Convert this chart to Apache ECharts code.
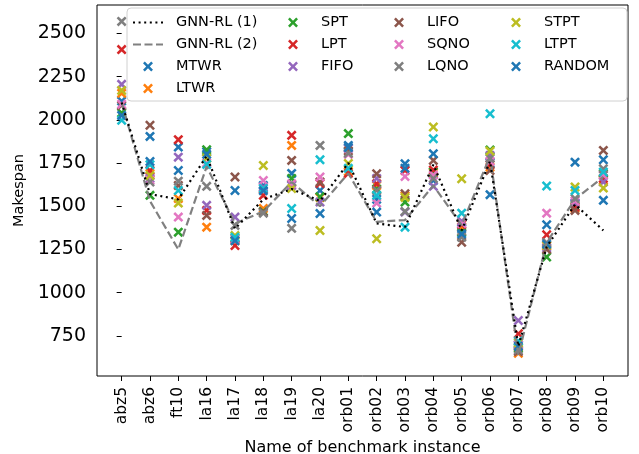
<!DOCTYPE html>
<html>
<head>
<meta charset="utf-8">
<script src="https://cdn.jsdelivr.net/npm/echarts@6/dist/echarts.min.js"></script>
<style>
  html, body { margin: 0; padding: 0; background: #fff; }
  #chart { width: 639px; height: 454px; }
</style>
</head>
<body>
<div id="chart"></div>
<script>
const categories = ['abz5', 'abz6', 'ft10', 'la16', 'la17', 'la18', 'la19', 'la20', 'orb01', 'orb02',
  'orb03', 'orb04', 'orb05', 'orb06', 'orb07', 'orb08', 'orb09', 'orb10'];
const yTicks = [750, 1000, 1250, 1500, 1750, 2000, 2250, 2500];

const gnn1 = [2100, 1570, 1540, 1790, 1370, 1540, 1600, 1530, 1750, 1400, 1380, 1740, 1360, 1760, 690, 1265, 1510, 1360];
const gnn2 = [2100, 1530, 1250, 1730, 1400, 1470, 1640, 1500, 1690, 1410, 1420, 1620, 1390, 1790, 640, 1290, 1540, 1670];

const mtwr   = [2108, 1904, 1842, 1815, 1591, 1620, 1690, 1591, 1852, 1540, 1746, 1649, 1370, 1750, 700, 1393, 1516, 1769];
const ltwr   = [2153, 1690, 1545, 1379, 1300, 1487, 1852, 1550, 1700, 1620, 1560, 1692, 1380, 1726, 650, 1270, 1486, 1650];
const spt    = [2040, 1563, 1350, 1827, 1315, 1470, 1661, 1555, 1920, 1600, 1524, 1700, 1350, 1825, 680, 1206, 1500, 1690];
const lpt    = [2406, 1707, 1885, 1476, 1273, 1563, 1910, 1632, 1690, 1630, 1707, 1710, 1395, 1740, 762, 1335, 1495, 1661];
const fifo   = [2205, 1661, 1784, 1505, 1437, 1610, 1620, 1524, 1834, 1661, 1466, 1615, 1414, 1794, 839, 1260, 1520, 1640];
const lifo   = [2083, 1968, 1620, 1447, 1669, 1466, 1765, 1640, 1820, 1688, 1572, 1765, 1292, 1707, 660, 1250, 1476, 1823];
const sqno   = [2090, 1650, 1437, 1750, 1310, 1649, 1630, 1669, 1800, 1518, 1672, 1680, 1400, 1760, 700, 1460, 1530, 1680];
const lqno   = [2569, 1640, 1645, 1615, 1389, 1460, 1372, 1852, 1807, 1591, 1470, 1660, 1320, 1777, 670, 1290, 1545, 1717];
const stpt   = [2170, 1678, 1518, 1777, 1330, 1736, 1603, 1360, 1747, 1312, 1551, 1958, 1659, 1819, 710, 1275, 1611, 1605];
const ltpt   = [1997, 1740, 1591, 1742, 1321, 1603, 1487, 1769, 1719, 1563, 1379, 1890, 1460, 2035, 720, 1617, 1591, 1698];
const random = [2025, 1759, 1707, 1800, 1300, 1590, 1429, 1458, 1840, 1466, 1720, 1804, 1340, 1567, 690, 1280, 1755, 1534];

// filled "x" glyph, close to matplotlib's 'x' marker
const xMark = 'path://M1.8,0L5,3.2L8.2,0L10,1.8L6.8,5L10,8.2L8.2,10L5,6.8L1.8,10L0,8.2L3.2,5L0,1.8Z';
const font = 'DejaVu Sans';

const scatterDefs = [
  ['MTWR', mtwr, '#1f77b4'],
  ['LTWR', ltwr, '#ff7f0e'],
  ['SPT', spt, '#2ca02c'],
  ['LPT', lpt, '#d62728'],
  ['FIFO', fifo, '#9467bd'],
  ['LIFO', lifo, '#8c564b'],
  ['SQNO', sqno, '#e377c2'],
  ['LQNO', lqno, '#7f7f7f'],
  ['STPT', stpt, '#bcbd22'],
  ['LTPT', ltpt, '#17becf'],
  ['RANDOM', random, '#1f77b4']
];

const toPoints = arr => arr.map((v, i) => [i, v]);

const series = scatterDefs.map(([name, values, color]) => ({
  name,
  type: 'scatter',
  data: toPoints(values),
  symbol: xMark,
  symbolSize: 10,
  itemStyle: { color, opacity: 1 },
  z: 2,
  silent: true
}));

series.unshift(
  {
    name: 'GNN-RL (1)',
    type: 'line',
    data: toPoints(gnn1),
    symbol: 'none',
    lineStyle: { color: '#000', width: 2.2, type: [2, 3.6] },
    itemStyle: { color: '#000' },
    z: 4
  },
  {
    name: 'GNN-RL (2)',
    type: 'line',
    data: toPoints(gnn2),
    symbol: 'none',
    lineStyle: { color: '#808080', width: 2.2, type: [8, 3.5] },
    itemStyle: { color: '#808080' },
    z: 3
  }
);

const legendBase = {
  orient: 'vertical',
  top: 15,
  padding: 0,
  itemWidth: 30,
  itemHeight: 10,
  itemGap: 7,
  selectedMode: false,
  z: 20,
  textStyle: { fontFamily: font, fontSize: 14.5, color: '#000', padding: [0, 0, 0, 8] }
};

const lineItem = name => ({ name, itemStyle: { opacity: 0 } });

const chart = echarts.init(document.getElementById('chart'));

const option = {
  animation: false,
  backgroundColor: '#fff',
  grid: {
    left: 97,
    right: 11,
    top: 5,
    bottom: 78,
    outerBoundsMode: 'none',
    show: true,
    borderColor: '#000',
    borderWidth: 1,
    backgroundColor: 'transparent'
  },
  graphic: [{
    type: 'rect',
    shape: { x: 127, y: 8, width: 500, height: 93, r: 4 },
    style: { fill: 'rgba(255,255,255,0.8)', stroke: '#d0d0d0', lineWidth: 1 },
    z: 15
  }],
  legend: [
    Object.assign({}, legendBase, { left: 132, data: [lineItem('GNN-RL (1)'), lineItem('GNN-RL (2)'), 'MTWR', 'LTWR'] }),
    Object.assign({}, legendBase, { left: 288, data: ['SPT', 'LPT', 'FIFO'] }),
    Object.assign({}, legendBase, { left: 394, data: ['LIFO', 'SQNO', 'LQNO'] }),
    Object.assign({}, legendBase, { left: 511, data: ['STPT', 'LTPT', 'RANDOM'] })
  ],
  xAxis: {
    type: 'value',
    min: -0.87,
    max: 17.87,
    name: 'Name of benchmark instance',
    nameLocation: 'middle',
    nameGap: 62,
    nameTextStyle: { fontFamily: font, fontSize: 16, color: '#000' },
    axisLine: { show: false },
    axisTick: {
      show: true,
      length: 5,
      lineStyle: { color: '#000', width: 1 },
      customValues: categories.map((c, i) => i)
    },
    axisLabel: {
      rotate: 90,
      margin: 11,
      fontFamily: font,
      fontSize: 15.5,
      color: '#000',
      customValues: categories.map((c, i) => i),
      formatter: v => categories[Math.round(v)]
    },
    splitLine: { show: false }
  },
  yAxis: {
    type: 'value',
    min: 518,
    max: 2664,
    name: 'Makespan',
    nameLocation: 'middle',
    nameGap: 52,
    nameTextStyle: { fontFamily: font, fontSize: 14.5, color: '#000' },
    axisLine: { show: false },
    axisTick: {
      show: true,
      length: 5,
      lineStyle: { color: '#000', width: 1 },
      customValues: yTicks
    },
    axisLabel: {
      margin: 11,
      color: '#000',
      customValues: yTicks,
      formatter: v => '{t|' + v + '}',
      rich: {
        t: { fontFamily: font, fontSize: 19, color: '#000' }
      }
    },
    splitLine: { show: false }
  },
  series
};

chart.setOption(option);
</script>
</body>
</html>
